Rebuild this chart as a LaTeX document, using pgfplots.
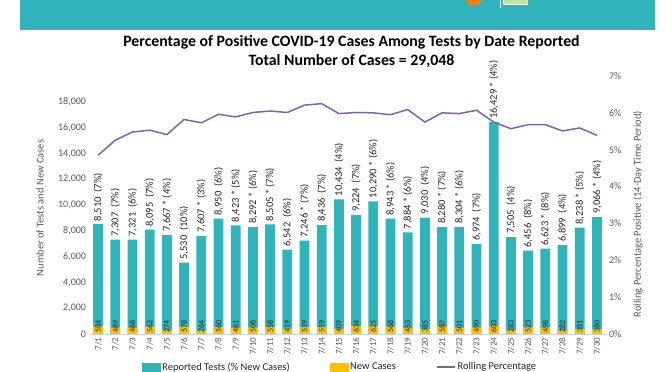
\documentclass[border=0pt]{standalone}
\usepackage{fontspec}
\setmainfont{Carlito}
\usepackage{pgfplots}
\pgfplotsset{compat=1.18}
\usepackage{pgfplotstable}
\definecolor{tealbar}{HTML}{30B4BA}
\definecolor{goldbar}{HTML}{FFC000}
\definecolor{purpline}{HTML}{8064A2}
\definecolor{ticklab}{HTML}{595959}
\definecolor{lbl}{HTML}{262626}

\pgfplotstableread[col sep=semicolon]{
x;tests;cases;zero;pct;label
0;8510;584;0;4.85;8,510 \ (7\%)
1;7307;489;0;5.26;7,307 \ (7\%)
2;7321;468;0;5.48;7,321 \ (6\%)
3;8095;562;0;5.53;8,095 \ (7\%)
4;7667;274;0;5.41;7,667 * (4\%)
5;5530;578;0;5.82;5,530 \ (10\%)
6;7607;264;0;5.73;7,607 * (3\%)
7;8950;560;0;5.96;8,950 \ (6\%)
8;8423;461;0;5.89;8,423 * (5\%)
9;8292;508;0;6.01;8,292 * (6\%)
10;8505;558;0;6.05;8,505 * (7\%)
11;6542;419;0;6.01;6,542 \ (6\%)
12;7246;539;0;6.21;7,246 * (7\%)
13;8436;559;0;6.25;8,436 \ (7\%)
14;10434;409;0;5.98;10,434 \ (4\%)
15;9224;634;0;6.01;9,224 \ (7\%)
16;10290;625;0;6.00;10,290 * (6\%)
17;8943;568;0;5.95;8,943 * (6\%)
18;7884;453;0;6.09;7,884 * (6\%)
19;9030;385;0;5.75;9,030 \ (4\%)
20;8280;587;0;6.00;8,280 * (7\%)
21;8304;501;0;5.98;8,304 * (6\%)
22;6974;490;0;6.07;6,974 \ (7\%)
23;16429;603;0;5.75;16,429 * (4\%)
24;7505;283;0;5.57;7,505 \ (4\%)
25;6456;523;0;5.68;6,456 \ (8\%)
26;6623;498;0;5.68;6,623 * (8\%)
27;6899;282;0;5.51;6,899 \ (4\%)
28;8238;381;0;5.59;8,238 * (5\%)
29;9066;380;0;5.39;9,066 * (4\%)
}\data

\begin{document}
\begin{tikzpicture}[x=1pt,y=1pt]
\useasboundingbox (0,0) rectangle (672,372);
\fill[white] (0,0) rectangle (672,372);
% banner
\fill[tealbar] (20,342) rectangle (655,372);
\fill[orange!85!brown] (473.5,375) circle (8.5);
\draw[white, line width=0.8pt] (500,364) -- (500,372);
\draw[white, line width=0.8pt, fill=yellow!40!green!40] (503,367.5) rectangle (527,374);

\begin{axis}[
  at={(89.5pt,38pt)}, anchor=south west,
  scale only axis, width=516pt, height=258pt,
  xmin=-0.5, xmax=29.5, ymin=0, ymax=20000,
  axis x line*=bottom, axis y line*=left,
  x axis line style={draw=black!18, -},
  y axis line style={draw=none},
  major tick style={draw=none},
  xtick={0,...,29},
  xticklabels={7/1,7/2,7/3,7/4,7/5,7/6,7/7,7/8,7/9,7/10,7/11,7/12,7/13,7/14,7/15,7/16,7/17,7/18,7/19,7/20,7/21,7/22,7/23,7/24,7/25,7/26,7/27,7/28,7/29,7/30},
  xticklabel style={rotate=90, anchor=east, font=\fontsize{9}{10}\selectfont, text=ticklab},
  ytick={0,2000,...,18000},
  scaled y ticks=false,
  yticklabel style={font=\fontsize{10}{12}\selectfont, text=ticklab},
  /pgf/number format/1000 sep={,},
  /pgf/number format/assume math mode=true,
  clip=false,
]
\addplot[ybar, bar width=9.8pt, bar shift=0pt, fill=tealbar, draw=none,
  nodes near coords, point meta=explicit symbolic,
  every node near coord/.style={rotate=90, anchor=west, font=\fontsize{10.5}{12}\selectfont, inner xsep=3pt, inner ysep=0pt, text=lbl}]
  table[x=x, y=tests, meta=label]{\data};
\addplot[ybar, bar width=9.8pt, bar shift=0pt, fill=goldbar, draw=none]
  table[x=x, y=cases]{\data};
\addplot[draw=none, mark=none, nodes near coords, point meta=explicit,
  nodes near coords={\pgfmathprintnumber{\pgfplotspointmeta}},
  every node near coord/.style={rotate=90, anchor=west, font=\fontsize{8}{9}\selectfont, inner xsep=0.8pt, inner ysep=0pt, text=lbl}]
  table[x=x, y=zero, meta=cases]{\data};
\end{axis}

\begin{axis}[
  at={(89.5pt,38pt)}, anchor=south west,
  scale only axis, width=516pt, height=258pt,
  xmin=-0.5, xmax=29.5, ymin=0, ymax=7,
  axis x line=none, axis y line*=right,
  y axis line style={draw=none},
  major tick style={draw=none},
  ytick={0,1,...,7},
  yticklabel={\pgfmathprintnumber{\tick}\%},
  yticklabel style={font=\fontsize{10}{12}\selectfont, text=ticklab},
  /pgf/number format/assume math mode=true,
  clip=false,
  legend columns=3,
  legend style={draw=none, fill=none, at={(0.4855,-0.128)}, anchor=center,
    font=\fontsize{10.5}{12}\selectfont, text=black!85,
    /tikz/every even column/.append style={column sep=38pt}},
]
\addlegendimage{legend image code/.code={\fill[tealbar] (0pt,-4pt) rectangle (18pt,4pt);}}
\addlegendentry{Reported Tests (\% New Cases)}
\addlegendimage{legend image code/.code={\fill[goldbar] (0pt,-4pt) rectangle (18pt,4pt);}}
\addlegendentry{New Cases}
\addplot[purpline, line width=1.5pt, mark=none,
  legend image code/.code={\draw[purpline, line width=1.5pt] (0pt,0pt) -- (18pt,0pt);}]
  table[x=x, y=pct]{\data};
\addlegendentry{Rolling Percentage}
\end{axis}

\node[font=\bfseries\fontsize{15.8}{18}\selectfont] at (351.5,330) {Percentage of Positive COVID-19 Cases Among Tests by Date Reported};
\node[font=\bfseries\fontsize{15.8}{18}\selectfont] at (351.5,311) {Total Number of Cases = 29,048};
\node[rotate=90, font=\fontsize{10.5}{12}\selectfont, text=ticklab] at (40,164) {Number of Tests and New Cases};
\node[rotate=90, font=\fontsize{10.5}{12}\selectfont, text=ticklab] at (638,158) {Rolling Percentage Positive (14-Day Time Period)};
\end{tikzpicture}
\end{document}
